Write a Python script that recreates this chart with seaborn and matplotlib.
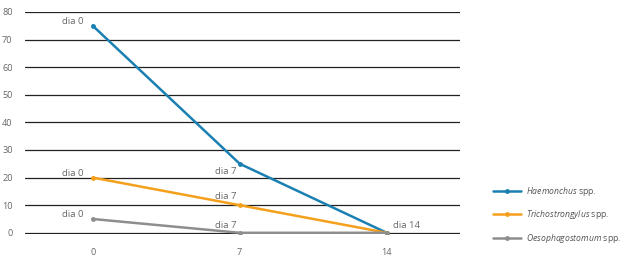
import numpy as np
import pandas as pd
import matplotlib
matplotlib.use('Agg')
import matplotlib.pyplot as plt
import seaborn as sns

days = ['0', '7', '14']
haemonchus = [75, 25, 0]
trichostrongylus = [20, 10, 0]
oesophagostomum = [5, 0, 0]

species = ['Haemonchus', 'Trichostrongylus', 'Oesophagostomum']
colors = ['#1a80b1', '#f5a01c', '#8e8e8e']

df = pd.DataFrame({
    'dia': days * 3,
    'valor': haemonchus + trichostrongylus + oesophagostomum,
    'especie': np.repeat(species, 3),
})

sns.set_style('white')
plt.rcParams['font.family'] = ['Open Sans', 'DejaVu Sans']
plt.rcParams['mathtext.fontset'] = 'custom'
plt.rcParams['mathtext.it'] = 'Open Sans:italic'
plt.rcParams['mathtext.rm'] = 'Open Sans'

fig = plt.figure(figsize=(6.27, 2.59), dpi=100)
ax = fig.add_axes([0.04, 0.098, 0.694, 0.856])

sns.lineplot(data=df, x='dia', y='valor', hue='especie', palette=colors,
             marker='o', markersize=3.5, markeredgewidth=0, linewidth=1.8,
             ax=ax, legend=False, zorder=3)

ax.set_xlim(-0.46, 2.5)
ax.set_ylim(-0.3, 80)
ax.set_yticks(np.arange(0, 81, 10))
ax.yaxis.grid(True, color='#222222', linewidth=0.9)
ax.set_axisbelow(True)
for s in ax.spines.values():
    s.set_visible(False)
ax.tick_params(axis='both', length=0, labelsize=6.6, labelcolor='#666666')
ax.tick_params(axis='x', pad=10)
ax.tick_params(axis='y', pad=9)
ax.set_xlabel('')
ax.set_ylabel('')

tc = '#666666'
fs = 6.8
ax.text(-0.06, 75, 'dia 0', ha='right', va='bottom', fontsize=fs, color=tc)
ax.text(-0.06, 20, 'dia 0', ha='right', va='bottom', fontsize=fs, color=tc)
ax.text(-0.06, 5, 'dia 0', ha='right', va='bottom', fontsize=fs, color=tc)
ax.text(0.98, 20.5, 'dia 7', ha='right', va='bottom', fontsize=fs, color=tc)
ax.text(0.98, 11.5, 'dia 7', ha='right', va='bottom', fontsize=fs, color=tc)
ax.text(0.98, 1.0, 'dia 7', ha='right', va='bottom', fontsize=fs, color=tc)
ax.text(2.04, 1.0, 'dia 14', ha='left', va='bottom', fontsize=fs, color=tc)

handles = [plt.Line2D([], [], color=c, marker='o', markersize=3.5,
                      markeredgewidth=0, linewidth=1.8) for c in colors]
labels = [r'$\it{' + s + r'}$ spp.' for s in species]
fig.legend(handles, labels, loc='center left', bbox_to_anchor=(0.786, 0.17),
           frameon=False, fontsize=6.2, handlelength=3.3, handletextpad=0.6,
           labelspacing=1.2, borderpad=0, borderaxespad=0,
           labelcolor='#555555')

fig.savefig('out.png', dpi=100)
